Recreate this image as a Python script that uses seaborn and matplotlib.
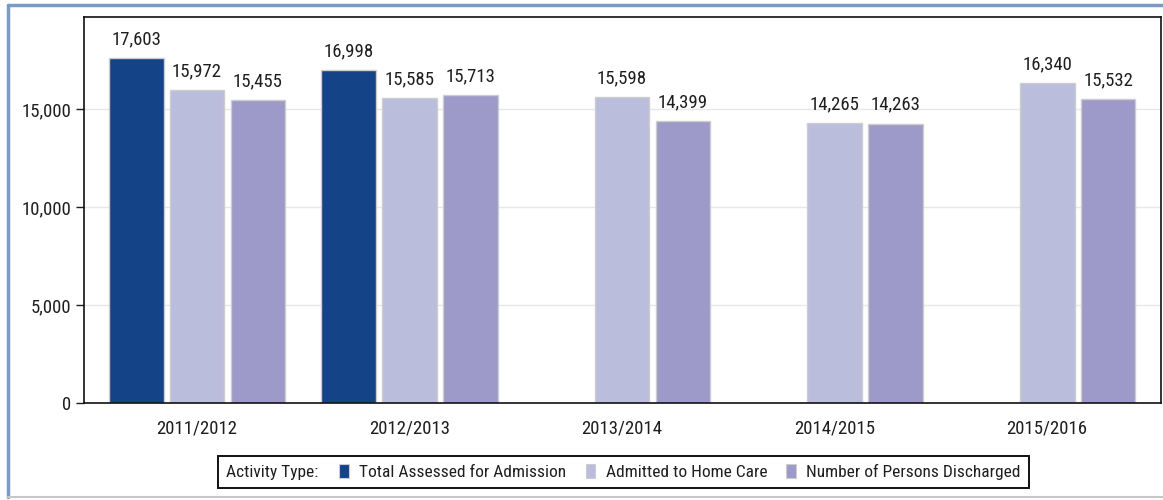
import matplotlib
matplotlib.use("Agg")
import matplotlib.pyplot as plt
from matplotlib.offsetbox import HPacker
from matplotlib.patches import Patch
from matplotlib.lines import Line2D
import numpy as np
import pandas as pd
import seaborn as sns

# Home care activity by fiscal year
years = ["2011/2012", "2012/2013", "2013/2014", "2014/2015", "2015/2016"]
series_names = ["Total Assessed for Admission", "Admitted to Home Care",
                "Number of Persons Discharged"]
assessed = [17603, 16998, np.nan, np.nan, np.nan]
admitted = [15972, 15585, 15598, 14265, 16340]
discharged = [15455, 15713, 14399, 14263, 15532]
colors = ["#154387", "#bbbddd", "#9d9ac9"]
yticks = [0, 5000, 10000, 15000]

df = pd.DataFrame({
    "Year": years * 3,
    "Activity": np.repeat(series_names, len(years)),
    "Value": assessed + admitted + discharged,
}).dropna()

sns.set_theme(style="white")
plt.rcParams["font.family"] = ["Roboto Condensed", "Liberation Sans", "DejaVu Sans"]
text_color = "#1e1e1e"
fsize = 13.5

W, H = 1163, 500
fig = plt.figure(figsize=(W / 100, H / 100), dpi=100)
ax = fig.add_axes([84 / W, 97 / H, (1161 - 84) / W, (403 - 17) / H])

sns.barplot(data=df, x="Year", y="Value", hue="Activity", order=years,
            hue_order=series_names, palette=colors, saturation=1,
            width=0.86, gap=0.1, edgecolor="#cdcdcd", linewidth=1,
            errorbar=None, legend=False, ax=ax)

for cont in ax.containers:
    ax.bar_label(cont, fmt="{:,.0f}", padding=7, fontsize=fsize, color=text_color)

ax.set_xlim(-0.532, 4.536)
ax.set_ylim(0, 19700)
ax.set_yticks(yticks)
ax.set_yticklabels([f"{v:,}" for v in yticks])
ax.set_xlabel("")
ax.set_ylabel("")
ax.yaxis.grid(True, color="#e8e8e8", linewidth=1)
ax.set_axisbelow(True)
ax.tick_params(axis="y", length=6, width=1, color=text_color, pad=3,
               labelsize=fsize, labelcolor=text_color, left=True)
ax.tick_params(axis="x", length=0, pad=12, labelsize=fsize, labelcolor=text_color)
for sp in ax.spines.values():
    sp.set_visible(True)
    sp.set_color("#111111")
    sp.set_linewidth(1.2)

# Legend with the title placed inline before the entries
handles = [Patch(facecolor=c, edgecolor="#cdcdcd", linewidth=0.8) for c in colors]
leg = fig.legend(handles, series_names, title="Activity Type:", ncol=3,
                 loc="center", bbox_to_anchor=(623.5 / W, 1 - 472 / H),
                 bbox_transform=fig.transFigure, fontsize=12.5, title_fontsize=12.5,
                 frameon=True, fancybox=False, framealpha=1, edgecolor="#111111",
                 handlelength=0.55, handleheight=0.85, handletextpad=0.6,
                 columnspacing=1.1, borderpad=0.45, borderaxespad=0)
for t in leg.get_texts():
    t.set_color(text_color)
leg.get_title().set_color(text_color)
leg.get_frame().set_linewidth(1.4)
fs = leg._fontsize
leg._legend_box = HPacker(pad=leg.borderpad * fs, sep=1.2 * fs, align="center",
                          children=[leg._legend_title_box, leg._legend_handle_box])
leg._legend_box.set_figure(fig)
leg._legend_box.axes = leg.axes
leg._legend_box.set_offset(leg._findoffset)

# Outer panel border
fig.add_artist(Line2D([8 / W, 1], [1 - 5 / H, 1 - 5 / H], transform=fig.transFigure,
                      color="#7b9bc4", linewidth=2.5))
fig.add_artist(Line2D([8 / W, 8 / W], [1 - 497 / H, 1 - 5 / H], transform=fig.transFigure,
                      color="#7b9bc4", linewidth=2.5))
fig.add_artist(Line2D([8 / W, 1], [1 - 497 / H, 1 - 497 / H], transform=fig.transFigure,
                      color="#c8c8c8", linewidth=1.5))

fig.savefig("out.png", dpi=100)
